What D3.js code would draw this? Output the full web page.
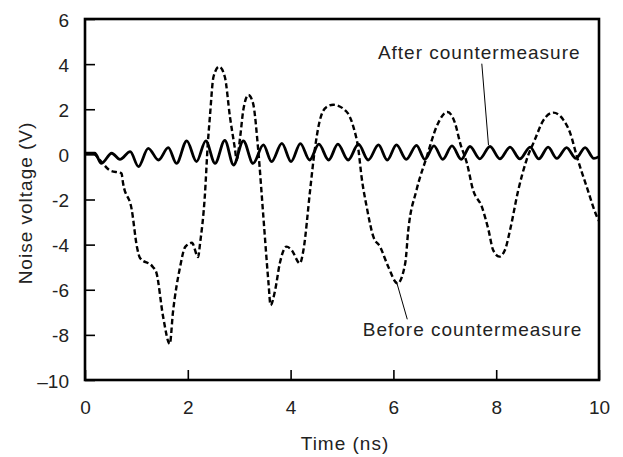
<!DOCTYPE html>
<html>
<head>
<meta charset="utf-8">
<script src="https://cdn.jsdelivr.net/npm/d3@7"></script>
<style>
  body { margin: 0; background: #fff; }
  text { font-family: "Liberation Sans", Arial, sans-serif; fill: #222; }
</style>
</head>
<body>
<script>
// noise waveforms, [time ns, volts]
var beforeCM = [
  [0, 0.05], [0.15, 0.05], [0.29, -0.25], [0.49, -0.72], [0.71, -0.84], [0.74, -1.27],
  [0.91, -2.46], [1.01, -4.09], [1.07, -4.59], [1.32, -4.99], [1.39, -5.25], [1.52, -7.2],
  [1.65, -8.4], [1.71, -7.03], [1.85, -4.99], [1.95, -4.1], [2.08, -3.92], [2.2, -4.55],
  [2.24, -3.92], [2.33, -1.89], [2.39, 0.5], [2.43, 1.67], [2.5, 3.44], [2.61, 3.89],
  [2.72, 3.44], [2.82, 1.67], [2.92, 0.2], [2.95, -0.25], [3.02, 0.79], [3.08, 1.97],
  [3.18, 2.63], [3.27, 2.26], [3.37, 0.19], [3.47, -2.76], [3.57, -5.7], [3.61, -6.68],
  [3.7, -6.01], [3.79, -4.83], [3.92, -4.09], [4.02, -4.24], [4.18, -4.83], [4.25, -4.24],
  [4.38, -1.58], [4.47, 0.2], [4.57, 1.52], [4.7, 2.1], [4.83, 2.2], [5.09, 1.89],
  [5.22, 1.23], [5.32, 0.2], [5.38, -0.99], [5.48, -2.32], [5.61, -3.65], [5.74, -4.09],
  [5.9, -4.98], [6.08, -5.72], [6.23, -4.83], [6.29, -3.35], [6.45, -1.58], [6.65, -0.1],
  [6.84, 1.23], [7.05, 1.88], [7.2, 1.38], [7.3, 0.49], [7.43, -0.39], [7.55, -1.58],
  [7.72, -2.32], [7.85, -3.35], [7.94, -4.24], [8.06, -4.53], [8.17, -4.24], [8.27, -3.35],
  [8.43, -1.58], [8.59, -0.25], [8.75, 0.64], [8.92, 1.52], [9.11, 1.85], [9.31, 1.52],
  [9.44, 0.94], [9.57, -0.1], [9.76, -1.43], [9.96, -2.76], [10, -2.95]
];

var afterCM = [
  [0, 0.05], [0.19, 0.05], [0.32, -0.4], [0.52, 0.05], [0.68, -0.22], [0.88, 0.12],
  [1.04, -0.54], [1.23, 0.27], [1.43, -0.25], [1.62, 0.3], [1.78, -0.4], [1.98, 0.6],
  [2.17, -0.32], [2.35, 0.6], [2.53, -0.4], [2.72, 0.62], [2.89, -0.47], [3.08, 0.6],
  [3.27, -0.4], [3.47, 0.42], [3.63, -0.32], [3.83, 0.49], [4.01, -0.32], [4.19, 0.48],
  [4.37, -0.25], [4.55, 0.45], [4.74, -0.25], [4.92, 0.45], [5.12, -0.25], [5.32, 0.45],
  [5.51, -0.25], [5.71, 0.42], [5.88, -0.25], [6.06, 0.42], [6.25, -0.22], [6.45, 0.4],
  [6.61, -0.22], [6.79, 0.38], [6.96, -0.22], [7.14, 0.38], [7.32, -0.22], [7.49, 0.35],
  [7.68, -0.2], [7.88, 0.35], [8.07, -0.2], [8.27, 0.32], [8.46, -0.2], [8.66, 0.32],
  [8.83, -0.2], [9.01, 0.32], [9.18, -0.18], [9.37, 0.3], [9.55, -0.18], [9.73, 0.3],
  [9.9, -0.18], [10, -0.1]
];

var xTicks = [0, 2, 4, 6, 8, 10];
var yTicks = [-10, -8, -6, -4, -2, 0, 2, 4, 6];
var yTickText = ["\u201310", "-8", "-6", "-4", "-2", "0", "2", "4", "6"];

// label anchors in data units: text point, leader line start and end
var afterNote = { label: "After countermeasure", at: [7.67, 4.23], from: [7.72, 4.02], to: [7.85, 0.41] };
var beforeNote = { label: "Before countermeasure", at: [7.54, -8.07], from: [6.06, -5.64], to: [6.27, -7.31] };

var W = 623, H = 457;
var margin = {top: 19, right: 24, bottom: 77, left: 85};
var iw = W - margin.left - margin.right;
var ih = H - margin.top - margin.bottom;

var svg = d3.select("body").append("svg")
    .attr("width", W)
    .attr("height", H);

var g = svg.append("g")
    .attr("transform", "translate(" + margin.left + "," + margin.top + ")");

var x = d3.scaleLinear().domain([0, 10]).range([0, iw]);
var y = d3.scaleLinear().domain([-10, 6]).range([ih, 0]);

// axes with ticks pointing inwards
var xAxis = g.append("g")
    .attr("transform", "translate(0," + ih + ")")
    .call(d3.axisBottom(x).tickValues(xTicks).tickSizeInner(-10).tickSizeOuter(0).tickPadding(21));
var yAxis = g.append("g")
    .call(d3.axisLeft(y).tickValues(yTicks).tickSizeInner(-10).tickSizeOuter(0).tickPadding(16)
      .tickFormat(function (d, i) { return yTickText[i]; }));

[xAxis, yAxis].forEach(function (a) {
    a.select(".domain").remove();
    a.selectAll(".tick line").attr("stroke", "#000").attr("stroke-width", 1.6);
    a.selectAll(".tick text")
        .style("font-family", "'Liberation Sans', Arial, sans-serif")
        .style("font-size", "19px")
        .attr("fill", "#222");
});
yAxis.selectAll(".tick text").attr("dy", "0.37em");

var line = d3.line()
    .x(function (d) { return x(d[0]); })
    .y(function (d) { return y(d[1]); })
    .curve(d3.curveMonotoneX);

g.append("path")
    .datum(beforeCM)
    .attr("fill", "none")
    .attr("stroke", "#000")
    .attr("stroke-width", 2.4)
    .attr("stroke-dasharray", "5.5,3")
    .attr("d", line);

g.append("path")
    .datum(afterCM)
    .attr("fill", "none")
    .attr("stroke", "#000")
    .attr("stroke-width", 2.8)
    .attr("stroke-linejoin", "round")
    .attr("d", line);

// frame
g.append("rect")
    .attr("width", iw)
    .attr("height", ih)
    .attr("fill", "none")
    .attr("stroke", "#000")
    .attr("stroke-width", 2.6);

// annotations
[afterNote, beforeNote].forEach(function (n) {
    g.append("line")
        .attr("x1", x(n.from[0])).attr("y1", y(n.from[1]))
        .attr("x2", x(n.to[0])).attr("y2", y(n.to[1]))
        .attr("stroke", "#000")
        .attr("stroke-width", 1);
    g.append("text")
        .attr("x", x(n.at[0]))
        .attr("y", y(n.at[1]))
        .attr("text-anchor", "middle")
        .style("font-size", "19px")
        .style("letter-spacing", "1px")
        .text(n.label);
});

// axis titles
svg.append("text")
    .attr("x", margin.left + iw / 2 + 3)
    .attr("y", 450)
    .attr("text-anchor", "middle")
    .style("font-size", "19px")
    .style("letter-spacing", "1px")
    .text("Time (ns)");

svg.append("text")
    .attr("transform", "translate(32," + (margin.top + 184) + ") rotate(-90)")
    .attr("text-anchor", "middle")
    .style("font-size", "19px")
    .style("letter-spacing", "1px")
    .text("Noise voltage (V)");
</script>
</body>
</html>
